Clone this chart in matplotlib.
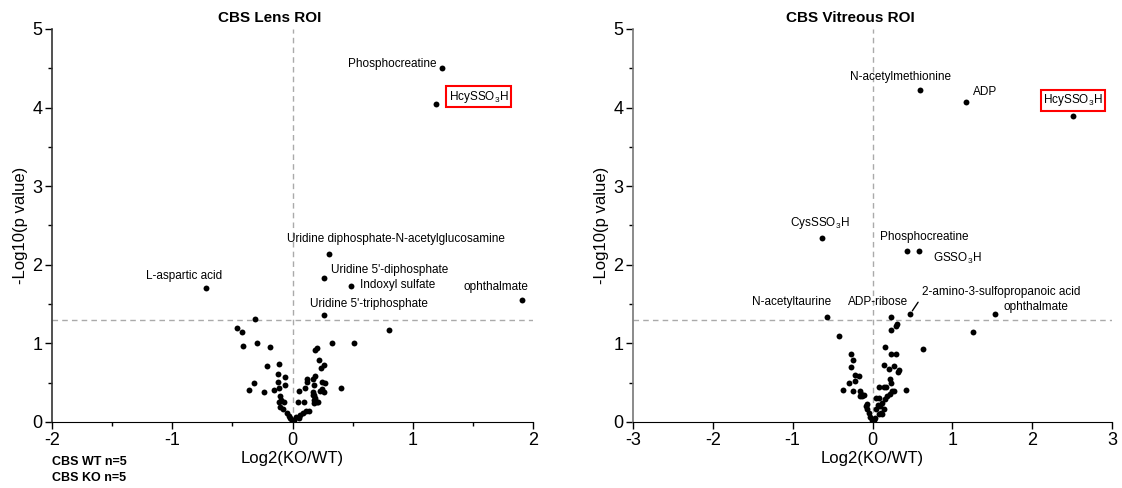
"""Volcano plots for CBS lens and vitreous ROI."""
import matplotlib
matplotlib.use("Agg")
import matplotlib.pyplot as plt
from matplotlib.ticker import MultipleLocator

plt.rcParams["font.family"] = ["Liberation Sans", "DejaVu Sans"]
plt.rcParams["mathtext.fontset"] = "custom"
plt.rcParams["mathtext.rm"] = "Liberation Sans"
plt.rcParams["mathtext.it"] = "Liberation Sans:italic"
plt.rcParams["axes.unicode_minus"] = False

# ---- Lens ROI data ----
lens_names = ["Phosphocreatine", r"$\mathrm{HcySSO_3H}$", "Uridine diphosphate-N-acetylglucosamine",
              "Uridine 5'-diphosphate", "Indoxyl sulfate", "Uridine 5'-triphosphate",
              "ophthalmate", "L-aspartic acid"]
lens_lab_x = [1.24, 1.19, 0.30, 0.26, 0.49, 0.26, 1.91, -0.72]
lens_lab_y = [4.50, 4.05, 2.14, 1.83, 1.73, 1.36, 1.55, 1.71]

lens_x = [0.80, -0.31, -0.46, -0.42, -0.41, -0.295, -0.185, 0.33, 0.51, -0.21,
          -0.116, -0.12, -0.06, -0.12, -0.063, -0.32, -0.36, -0.24, -0.158, -0.113,
          -0.104, -0.093, -0.07, -0.116, -0.10, -0.08, -0.048, -0.033, -0.018, -0.003,
          0.012, 0.027, 0.05, 0.066, 0.09, 0.116, 0.134, 0.05, 0.045, 0.095,
          0.10, 0.12, 0.12, 0.17, 0.176, 0.173, 0.173, 0.176, 0.19, 0.20,
          0.215, 0.18, 0.18, 0.19, 0.20, 0.218, 0.24, 0.265, 0.244, 0.27,
          0.23, 0.244, 0.265, 0.40, 0.19]
lens_y = [1.17, 1.31, 1.20, 1.15, 0.97, 1.00, 0.95, 1.00, 1.00, 0.71,
          0.74, 0.61, 0.57, 0.51, 0.47, 0.49, 0.41, 0.385, 0.41, 0.43,
          0.33, 0.28, 0.26, 0.26, 0.19, 0.17, 0.11, 0.076, 0.047, 0.017,
          0.025, 0.063, 0.05, 0.093, 0.11, 0.14, 0.14, 0.39, 0.25, 0.26,
          0.43, 0.55, 0.51, 0.55, 0.47, 0.385, 0.34, 0.237, 0.31, 0.26,
          0.26, 0.28, 0.34, 0.91, 0.94, 0.79, 0.69, 0.73, 0.51, 0.50,
          0.40, 0.42, 0.38, 0.435, 0.59]

# ---- Vitreous ROI data ----
vit_names = ["N-acetylmethionine", "ADP", r"$\mathrm{HcySSO_3H}$", r"$\mathrm{CysSSO_3H}$",
             "Phosphocreatine", r"$\mathrm{GSSO_3H}$", "2-amino-3-sulfopropanoic acid",
             "ophthalmate", "N-acetyltaurine", "ADP-ribose"]
vit_lab_x = [0.60, 1.17, 2.51, -0.63, 0.43, 0.585, 0.47, 1.54, -0.57, 0.23]
vit_lab_y = [4.22, 4.07, 3.89, 2.34, 2.18, 2.17, 1.37, 1.38, 1.34, 1.34]

vit_x = [-0.42, 1.26, 0.63, 0.234, 0.29, 0.31, 0.16, 0.234, 0.30, 0.15,
         0.21, 0.275, 0.32, 0.33, 0.22, 0.234, 0.42, -0.266, -0.243, -0.275,
         -0.225, -0.167, -0.22, -0.29, -0.365, -0.24, -0.153, -0.149, -0.13, -0.16,
         -0.108, -0.072, -0.063, -0.05, -0.03, -0.01, 0.014, 0.03, 0.05, 0.063,
         0.04, 0.08, 0.086, 0.14, 0.17, 0.10, 0.12, 0.14, 0.16, 0.185,
         0.216, 0.25, 0.275, 0.104, 0.077, 0.117, -0.085]
vit_y = [1.10, 1.15, 0.93, 1.175, 1.22, 1.25, 0.955, 0.86, 0.86, 0.727,
         0.67, 0.71, 0.63, 0.66, 0.55, 0.49, 0.41, 0.867, 0.795, 0.70,
         0.596, 0.58, 0.52, 0.50, 0.41, 0.39, 0.40, 0.35, 0.33, 0.325,
         0.34, 0.224, 0.16, 0.11, 0.068, 0.03, 0.02, 0.055, 0.16, 0.22,
         0.31, 0.30, 0.44, 0.44, 0.44, 0.20, 0.245, 0.16, 0.29, 0.33,
         0.36, 0.39, 0.40, 0.12, 0.10, 0.10, 0.20]

# label layout: (ha, dx px, dy px)
lens_layout = [("right", -5, 4), ("left", 13, 7), ("center", 67, 15), ("left", 7, 8),
               ("left", 9, 1), ("center", 45, 11), ("right", 6.5, 13), ("center", -22, 12)]
vit_layout = [("center", -20, 13), ("left", 7, 10), ("center", 0, 16), ("center", -2, 15),
              ("center", 17.5, 14), ("left", 14, -7), ("left", 11.5, 22), ("left", 8, 7),
              ("right", 4.5, 15), ("center", -13, 15)]

PX = 72 / 100  # pixels to points


def style_axes(ax, xlim, xminor, spine_color):
    ax.set_xlim(*xlim)
    ax.set_ylim(0, 5)
    ax.spines["top"].set_visible(False)
    ax.spines["right"].set_visible(False)
    ax.spines["left"].set_color(spine_color)
    ax.spines["left"].set_linewidth(1.2)
    ax.xaxis.set_major_locator(MultipleLocator(1))
    ax.yaxis.set_major_locator(MultipleLocator(1))
    ax.yaxis.set_minor_locator(MultipleLocator(0.5))
    if xminor:
        ax.xaxis.set_minor_locator(MultipleLocator(0.5))
    ax.tick_params(which="major", length=5, width=1, labelsize=13, pad=2)
    ax.tick_params(which="minor", length=3, width=1)
    ax.axhline(1.3, color="#aaaaaa", lw=1, dashes=(4, 3), zorder=1)
    ax.axvline(0, color="#aaaaaa", lw=1, dashes=(4, 3), zorder=1)
    ax.set_xlabel("Log2(KO/WT)", fontsize=12, labelpad=2)
    ax.set_ylabel("-Log10(p value)", fontsize=12, labelpad=3)


def draw(ax, xs, ys, names, lx, ly, layout):
    ax.scatter(xs + lx, ys + ly, s=18, color="black", zorder=3, linewidths=0)
    for name, x, y, (ha, dx, dy) in zip(names, lx, ly, layout):
        kw = {}
        if "Hcy" in name:
            kw["bbox"] = dict(boxstyle="square,pad=0.2", fc="white", ec="red", lw=1.5)
        if name.startswith("2-amino"):
            kw["arrowprops"] = dict(arrowstyle="-", color="black", lw=1,
                                    relpos=(0, 0.1), shrinkA=1, shrinkB=3)
        ax.annotate(name, (x, y), xytext=(dx * PX, dy * PX), textcoords="offset points",
                    ha=ha, va="center", fontsize=8.5, **kw)


fig = plt.figure(figsize=(11.22, 4.88), dpi=100)
ax1 = fig.add_axes([52 / 1122, 66 / 488, 481 / 1122, 393 / 488])
ax2 = fig.add_axes([633 / 1122, 66 / 488, 479 / 1122, 393 / 488])

style_axes(ax1, (-2, 2), True, "#333333")
style_axes(ax2, (-3, 3), False, "#777777")
draw(ax1, lens_x, lens_y, lens_names, lens_lab_x, lens_lab_y, lens_layout)
draw(ax2, vit_x, vit_y, vit_names, vit_lab_x, vit_lab_y, vit_layout)

ax1.text(0.453, 1 + 11 / 393, "CBS Lens ROI", transform=ax1.transAxes, ha="center",
         va="center", fontsize=11, fontweight="bold")
ax2.text(0.453, 1 + 11 / 393, "CBS Vitreous ROI", transform=ax2.transAxes, ha="center",
         va="center", fontsize=11, fontweight="bold")

fig.text(52 / 1122, 1 - 462 / 488, "CBS WT n=5", ha="left", va="center",
         fontsize=9, fontweight="bold")
fig.text(52 / 1122, 1 - 478 / 488, "CBS KO n=5", ha="left", va="center",
         fontsize=9, fontweight="bold")

fig.savefig("out.png", dpi=100)
